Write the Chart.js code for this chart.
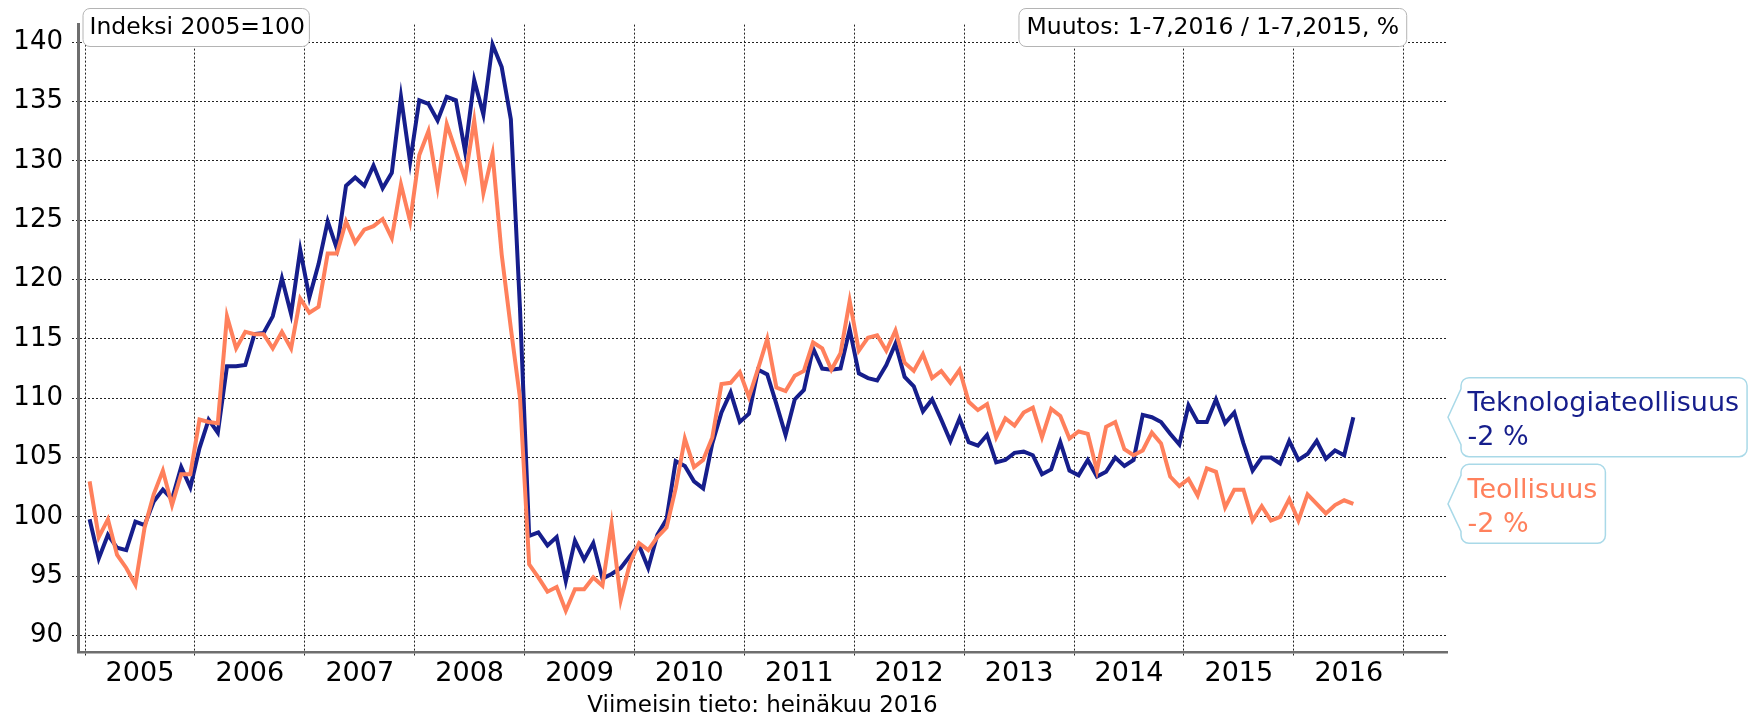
<!DOCTYPE html>
<html>
<head>
  <title>Teknologiateollisuus ja teollisuus, indeksi 2005=100</title>
  <script src="https://cdn.jsdelivr.net/npm/chart.js"></script>
  <style>
    body { margin: 0; background: #fff; }
  </style>
</head>
<body>
  <canvas id="indexChart" width="1752" height="715"></canvas>

  <script>
    // monthly index, 1/2005 - 7/2016
    const years = [2005, 2006, 2007, 2008, 2009, 2010, 2011, 2012, 2013, 2014, 2015, 2016];
    const yTicks = [90, 95, 100, 105, 110, 115, 120, 125, 130, 135, 140];

    const tekno = [
      99.8, 96.5, 98.5, 97.4, 97.2, 99.6, 99.3, 101.3, 102.3, 101.5, 104.2, 102.5,
      105.8, 108.2, 107.1, 112.7, 112.7, 112.8, 115.4, 115.5, 116.9, 120.1, 117.1, 122.5,
      118.5, 121.3, 124.9, 122.6, 127.9, 128.6, 127.9, 129.6, 127.7, 129.0, 135.4, 129.9,
      135.1, 134.8, 133.4, 135.4, 135.1, 130.8, 136.8, 133.9, 139.8, 137.9, 133.5, 117.5,
      98.4, 98.7, 97.6, 98.3, 94.6, 98.0, 96.4, 97.8, 94.8, 95.2, 95.7, 96.7,
      97.6, 95.7, 98.5, 99.8, 104.7, 104.3, 103.0, 102.4, 106.2, 108.8, 110.5, 108.0,
      108.7, 112.4, 112.0, 109.5, 106.9, 109.9, 110.7, 114.2, 112.5, 112.4, 112.5, 115.8,
      112.1, 111.7, 111.5, 112.8, 114.6, 111.8, 111.0, 108.9, 109.9, 108.2, 106.4, 108.3,
      106.3, 106.0, 106.9, 104.6, 104.8, 105.4, 105.5, 105.2, 103.6, 104.0, 106.3, 103.9,
      103.5, 104.8, 103.4, 103.8, 105.0, 104.3, 104.8, 108.6, 108.4, 108.0, 107.0, 106.1,
      109.4, 108.0, 108.0, 109.9, 107.9, 108.8, 106.2, 103.9, 105.0, 105.0, 104.5, 106.4,
      104.8, 105.3, 106.4, 104.9, 105.6, 105.2, 108.4
    ];

    const teoll = [
      103.0, 98.3, 99.8, 96.8, 95.7, 94.3, 99.1, 101.9, 103.9, 101.0, 103.6, 103.6,
      108.2, 108.0, 107.9, 116.9, 114.2, 115.6, 115.4, 115.4, 114.2, 115.6, 114.2, 118.4,
      117.2, 117.7, 122.2, 122.2, 124.9, 123.1, 124.2, 124.5, 125.1, 123.5, 128.0, 124.9,
      130.5, 132.5, 127.8, 133.1, 130.8, 128.5, 133.4, 127.3, 130.6, 122.1, 115.9, 110.0,
      96.0, 94.9, 93.7, 94.1, 92.1, 93.9, 93.9, 94.9, 94.2, 99.4, 93.0, 96.1,
      97.8, 97.2, 98.3, 99.1, 102.4, 106.6, 104.2, 104.8, 106.7, 111.2, 111.3, 112.2,
      110.1, 112.5, 115.0, 110.9, 110.6, 111.9, 112.3, 114.7, 114.2, 112.4, 113.8, 118.2,
      114.0, 115.1, 115.3, 114.0, 115.7, 113.0, 112.3, 113.7, 111.7, 112.3, 111.3, 112.4,
      109.7, 109.0, 109.5, 106.7, 108.3, 107.7, 108.8, 109.2, 106.7, 109.1, 108.5, 106.6,
      107.2, 107.0, 103.9, 107.6, 108.0, 105.7, 105.2, 105.6, 107.1, 106.2, 103.4, 102.6,
      103.2, 101.8, 104.1, 103.8, 100.8, 102.3, 102.3, 99.7, 100.9, 99.7, 100.0, 101.5,
      99.7, 101.9, 101.1, 100.3, 101.0, 101.4, 101.1
    ];

    const seriesNames = ['Teknologiateollisuus', 'Teollisuus'];
    const changes = ['-2 %', '-2 %'];
    const indexNote = 'Indeksi 2005=100';
    const changeNote = 'Muutos: 1-7,2016 / 1-7,2015, %';
    const footNote = 'Viimeisin tieto: heinäkuu 2016';

    const BLUE = '#161e8c';
    const ORANGE = '#ff805c';
    const FONT = "'DejaVu Sans', Verdana, sans-serif";

    // month i sits in the middle of its month on a year scale
    const toPoints = arr => arr.map((v, i) => ({ x: years[0] + (i + 0.5) / 12, y: v }));

    function roundBox(ctx, l, t, r, b, rad) {
      ctx.beginPath();
      ctx.moveTo(l + rad, t);
      ctx.arcTo(r, t, r, b, rad);
      ctx.arcTo(r, b, l, b, rad);
      ctx.arcTo(l, b, l, t, rad);
      ctx.arcTo(l, t, r, t, rad);
      ctx.closePath();
    }

    function tagBox(ctx, tipX, tipY, l, t, r, b, rad) {
      ctx.beginPath();
      ctx.moveTo(l + rad, t);
      ctx.arcTo(r, t, r, b, rad);
      ctx.arcTo(r, b, l, b, rad);
      ctx.arcTo(l, b, l, b - 12, rad);
      ctx.lineTo(l, b - 12);
      ctx.lineTo(tipX, tipY);
      ctx.lineTo(l, t + 11);
      ctx.arcTo(l, t, l + rad, t, rad);
      ctx.closePath();
    }

    const notes = {
      id: 'notes',
      afterDraw(chart) {
        const { ctx, chartArea } = chart;
        const xs = chart.scales.x, ys = chart.scales.y;
        ctx.save();

        // top notes
        ctx.font = '23.5px ' + FONT;
        ctx.textBaseline = 'middle';
        ctx.lineWidth = 1;
        ctx.strokeStyle = '#b4b4b4';
        ctx.fillStyle = '#fff';
        let l = chartArea.left + 5, w = ctx.measureText(indexNote).width;
        roundBox(ctx, l, 8.5, l + w + 11, 46.5, 7);
        ctx.fill(); ctx.stroke();
        ctx.fillStyle = '#000';
        ctx.textAlign = 'left';
        ctx.fillText(indexNote, l + 6.5, 28);

        let r = xs.getPixelForValue(2017) + 3;
        w = ctx.measureText(changeNote).width;
        ctx.fillStyle = '#fff';
        roundBox(ctx, r - w - 15, 8.5, r, 46.5, 7);
        ctx.fill(); ctx.stroke();
        ctx.fillStyle = '#000';
        ctx.fillText(changeNote, r - w - 7.5, 28);

        // end labels
        const ends = [[tekno, BLUE], [teoll, ORANGE]];
        ctx.font = '27px ' + FONT;
        ctx.textBaseline = 'alphabetic';
        ends.forEach(([arr, col], k) => {
          const tipY = ys.getPixelForValue(arr[arr.length - 1]);
          const tipX = chartArea.right + 1;
          const bl = tipX + 13;
          const tw = ctx.measureText(seriesNames[k]).width;
          ctx.fillStyle = '#fff';
          ctx.strokeStyle = '#a9d9e8';
          ctx.lineWidth = 1.5;
          tagBox(ctx, tipX, tipY, bl, tipY - 39.5, bl + tw + 14.5, tipY + 39.5, 8);
          ctx.fill(); ctx.stroke();
          ctx.fillStyle = col;
          ctx.fillText(seriesNames[k], bl + 6.5, tipY - 6);
          ctx.fillText(changes[k], bl + 6.5, tipY + 28);
        });

        // source line
        ctx.font = '23px ' + FONT;
        ctx.fillStyle = '#000';
        ctx.textAlign = 'center';
        ctx.fillText(footNote, (chartArea.left + chartArea.right) / 2, 712);
        ctx.restore();
      }
    };

    const ctx = document.getElementById('indexChart').getContext('2d');
    new Chart(ctx, {
      type: 'line',
      data: {
        datasets: [{
          label: seriesNames[0],
          data: toPoints(tekno),
          borderColor: BLUE,
          borderWidth: 4,
          pointRadius: 0,
          tension: 0,
          order: 1
        }, {
          label: seriesNames[1],
          data: toPoints(teoll),
          borderColor: ORANGE,
          borderWidth: 4,
          pointRadius: 0,
          tension: 0,
          order: 0
        }]
      },
      options: {
        responsive: false,
        animation: false,
        devicePixelRatio: 1,
        layout: { padding: { left: 0, top: 7, right: 305, bottom: 0 } },
        plugins: { legend: { display: false }, tooltip: { enabled: false } },
        scales: {
          x: {
            type: 'linear',
            min: 2004.936,
            max: 2017.394,
            afterBuildTicks: s => {
              const t = [];
              years.forEach(y => { t.push({ value: y }); t.push({ value: y + 0.5 }); });
              t.push({ value: years[years.length - 1] + 1 });
              s.ticks = t;
            },
            afterFit: s => { s.height = 63; },
            ticks: {
              autoSkip: false,
              maxRotation: 0,
              padding: 2,
              color: '#000',
              font: { family: FONT, size: 27 },
              callback: v => (v % 1 === 0.5 ? String(Math.floor(v)) : '')
            },
            grid: {
              color: c => (c.tick && c.tick.value % 1 === 0 ? '#222' : 'rgba(0,0,0,0)'),
              lineWidth: 1,
              tickLength: 4,
              tickBorderDash: [2, 2]
            },
            border: { display: true, color: '#6e6e6e', width: 2.5, dash: [2, 2] }
          },
          y: {
            min: 88.62,
            max: 141.48,
            afterBuildTicks: s => { s.ticks = yTicks.map(v => ({ value: v })); },
            afterFit: s => { s.width = 78; },
            ticks: {
              padding: 9,
              color: '#000',
              font: { family: FONT, size: 26 }
            },
            grid: {
              color: '#222',
              lineWidth: 1,
              tickLength: 6,
              tickBorderDash: [2, 2]
            },
            border: { display: true, color: '#6e6e6e', width: 3, dash: [2, 2] }
          }
        }
      },
      plugins: [notes]
    });
  </script>
</body>
</html>
